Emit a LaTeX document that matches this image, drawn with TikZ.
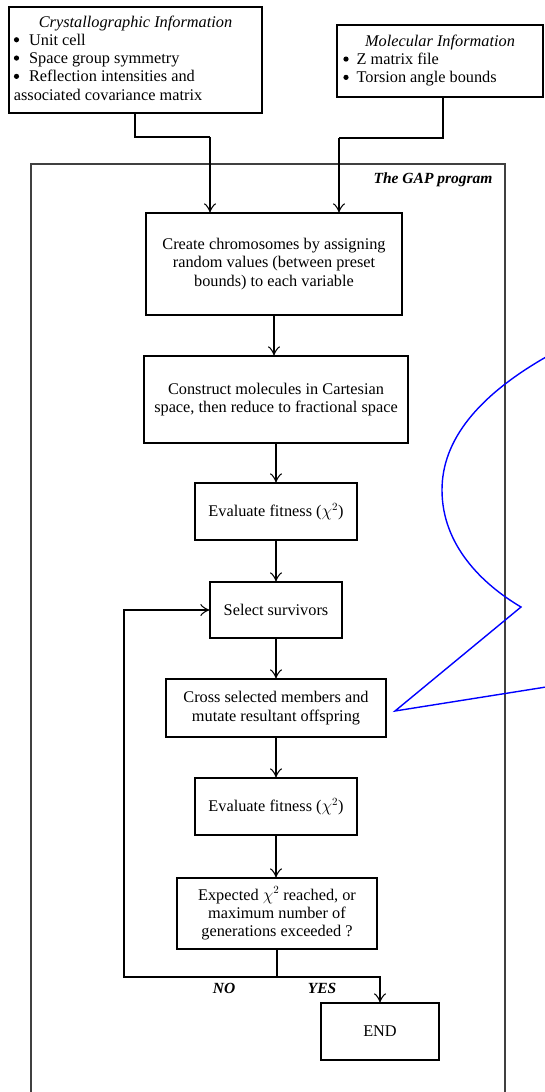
\documentclass[tikz,border=0pt]{standalone}
\usepackage{fontspec}
\setmainfont{Liberation Serif}
\usetikzlibrary{arrows.meta}
\newcommand{\bul}{\raisebox{0.4ex}{\tikz\fill (0,0) circle (2.6pt);}}
\begin{document}
\begin{tikzpicture}[x=1pt,y=-1pt,
  every node/.style={font=\fontsize{16.3}{18.3}\selectfont},
  flowbox/.style={draw,line width=1.3pt,inner sep=0pt,align=center},
  infobox/.style={draw,line width=1.3pt,inner sep=0pt},
  arr/.style={line width=1.3pt,-{Classical TikZ Rightarrow[length=9pt,width=12pt]}},
  ln/.style={line width=1.3pt},
  lab/.style={font=\fontsize{15.5}{17}\selectfont\bfseries\itshape}]
\useasboundingbox (0,0) rectangle (545,1092);
\fill[white] (0,0) rectangle (545,1092);
% outer frame
\draw[line width=1.6pt,black!75] (31,1094) -- (31,164) -- (505,164) -- (505,1094);
\node[lab,anchor=east] (gap) at (496,180) {The GAP program};
% info boxes
\node[infobox,minimum width=253pt,minimum height=106pt] (cryst) at (135.5,60)
 {\begin{tabular}{@{}l@{\hspace{10pt}}p{228pt}@{}}
  \multicolumn{2}{c}{\itshape Crystallographic Information}\\
  \bul & Unit cell\\
  \bul & Space group symmetry\\
  \bul & Reflection intensities and\\
  \multicolumn{2}{@{}l@{}}{associated covariance matrix}
  \end{tabular}};
\node[infobox,minimum width=206pt,minimum height=72pt] (mol) at (440,61)
 {\begin{tabular}{@{}l@{\hspace{8pt}}p{180pt}@{}}
  \multicolumn{2}{c}{\itshape Molecular Information}\\
  \bul & Z matrix file\\
  \bul & Torsion angle bounds
  \end{tabular}};
% flow boxes
\node[flowbox,minimum width=256pt,minimum height=102pt] (create) at (274,264)
 {Create chromosomes by assigning\\random values (between preset\\bounds) to each variable};
\node[flowbox,minimum width=264pt,minimum height=87pt] (construct) at (276,399.5)
 {Construct molecules in Cartesian\\space, then reduce to fractional space};
\node[flowbox,minimum width=162pt,minimum height=57pt] (eval1) at (276,511.5)
 {Evaluate fitness ($\chi^2$)};
\node[flowbox,minimum width=132pt,minimum height=56pt] (select) at (276,610)
 {Select survivors};
\node[flowbox,minimum width=220pt,minimum height=58pt] (cross) at (276,708)
 {Cross selected members and\\mutate resultant offspring};
\node[flowbox,minimum width=162pt,minimum height=57pt] (eval2) at (276,806.5)
 {Evaluate fitness ($\chi^2$)};
\node[flowbox,minimum width=200pt,minimum height=71pt] (decide) at (277,913.5)
 {Expected $\chi^2$ reached, or\\maximum number of\\generations exceeded ?};
\node[flowbox,minimum width=118pt,minimum height=57pt] (end) at (380,1031.5)
 {END};
% inputs
\coordinate (c1) at (135,137);
\coordinate (c2) at (210,137);
\coordinate (m1) at (443,138);
\coordinate (m2) at (339,138);
\draw[ln] (cryst.south -| c1) -- (c1) -- (c2);
\draw[arr] (c2) -- (c2 |- create.north);
\draw[ln] (mol.south -| m1) -- (m1) -- (m2);
\draw[arr] (m2) -- (m2 |- create.north);
% main chain
\draw[arr] (create.south) -- (create.south |- construct.north);
\draw[arr] (construct.south) -- (construct.south |- eval1.north);
\draw[arr] (eval1.south) -- (eval1.south |- select.north);
\draw[arr] (select.south) -- (select.south |- cross.north);
\draw[arr] (cross.south) -- (cross.south |- eval2.north);
\draw[arr] (eval2.south) -- (eval2.south |- decide.north);
% decision
\coordinate (split) at (277,977);
\coordinate (loopc) at (124,977);
\draw[ln] (decide.south) -- (split);
\draw[arr] (split) -- (loopc) |- (select.west);
\draw[arr] (split) -| (end.north);
\node[lab] (no) at (224,988) {NO};
\node[lab] (yes) at (322,988) {YES};
% blue callout
\draw[blue,line width=1.4pt,line join=miter]
  (546,357) .. controls (478,396) and (442,440) .. (442,490)
  .. controls (442,545) and (482,584) .. (521,607)
  -- (395,711) -- (546,687);
\end{tikzpicture}
\end{document}
